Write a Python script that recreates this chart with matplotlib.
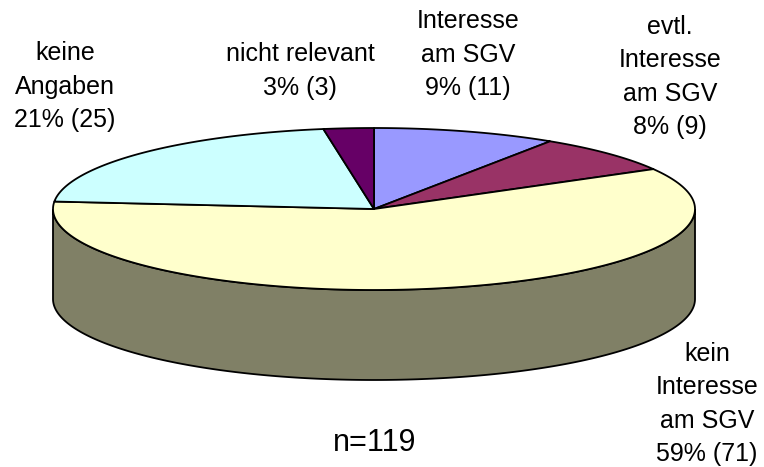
import matplotlib

matplotlib.use("Agg")

import matplotlib.pyplot as plt
import numpy as np
from matplotlib.colors import to_rgb

plt.rcParams["font.family"] = ["Liberation Sans", "DejaVu Sans"]

# Daten (im Uhrzeigersinn ab 12 Uhr)
CATEGORIES = ["Interesse\nam SGV", "evtl.\nInteresse\nam SGV", "kein\nInteresse\nam SGV",
              "keine\nAngaben", "nicht relevant"]
COUNTS = [11, 9, 71, 25, 3]
PERCENT_LABELS = ["9%", "8%", "59%", "21%", "3%"]
COLORS = ["#9999FF", "#993366", "#FFFFCC", "#CCFFFF", "#660066"]
N_TOTAL_LABEL = "n=119"

# Geometrie in Pixeln
CX, CY = 374.0, 209.0
RX, RY = 321.0, 81.0
DEPTH = 90.0
LABEL_POS = [(468, 55), (670, 77), (707, 404), (65, 87), (300, 71)]


def arc(t0, t1, dy=0.0, n=200):
    t = np.radians(np.linspace(t0, t1, n))
    return CX + RX * np.cos(t), CY - RY * np.sin(t) + dy


def main():
    fig = plt.figure(figsize=(7.64, 4.67), dpi=100)
    ax = fig.add_axes((0, 0, 1, 1))
    ax.set_xlim(0, 764)
    ax.set_ylim(467, 0)
    ax.axis("off")

    counts = np.array(COUNTS, dtype=float)
    spans = counts / counts.sum() * 360.0
    starts = 90.0 - np.concatenate(([0.0], np.cumsum(spans)[:-1]))
    ends = starts - spans

    # Seitenwand (nur sichtbare Vorderseite, 180..360 Grad)
    for s, e, col in zip(starts, ends, COLORS):
        shade = tuple(c * 0.5 for c in to_rgb(col))
        for k in (-1, 0, 1):
            lo, hi = max(e, -180 + 360 * k), min(s, 360 * k)
            if hi <= lo:
                continue
            xt, yt = arc(lo, hi)
            xb, yb = arc(hi, lo, DEPTH)
            ax.fill(np.concatenate((xt, xb)), np.concatenate((yt, yb)),
                    facecolor=shade, edgecolor="black", linewidth=1.3, zorder=1)

    # Deckfläche
    for s, e, col in zip(starts, ends, COLORS):
        xa, ya = arc(s, e)
        ax.fill(np.concatenate(([CX], xa)), np.concatenate(([CY], ya)),
                facecolor=col, edgecolor="black", linewidth=1.3, zorder=2,
                joinstyle="round")

    for cat, cnt, pct, (lx, ly) in zip(CATEGORIES, COUNTS, PERCENT_LABELS, LABEL_POS):
        ax.text(lx, ly, f"{cat}\n{pct} ({cnt})", ha="center", va="center",
                fontsize=18, linespacing=1.5, color="black")

    ax.text(375, 443, N_TOTAL_LABEL, ha="center", va="center", fontsize=22, color="black")

    fig.savefig("out.png", dpi=100, facecolor="white")
    plt.close(fig)


if __name__ == "__main__":
    main()
